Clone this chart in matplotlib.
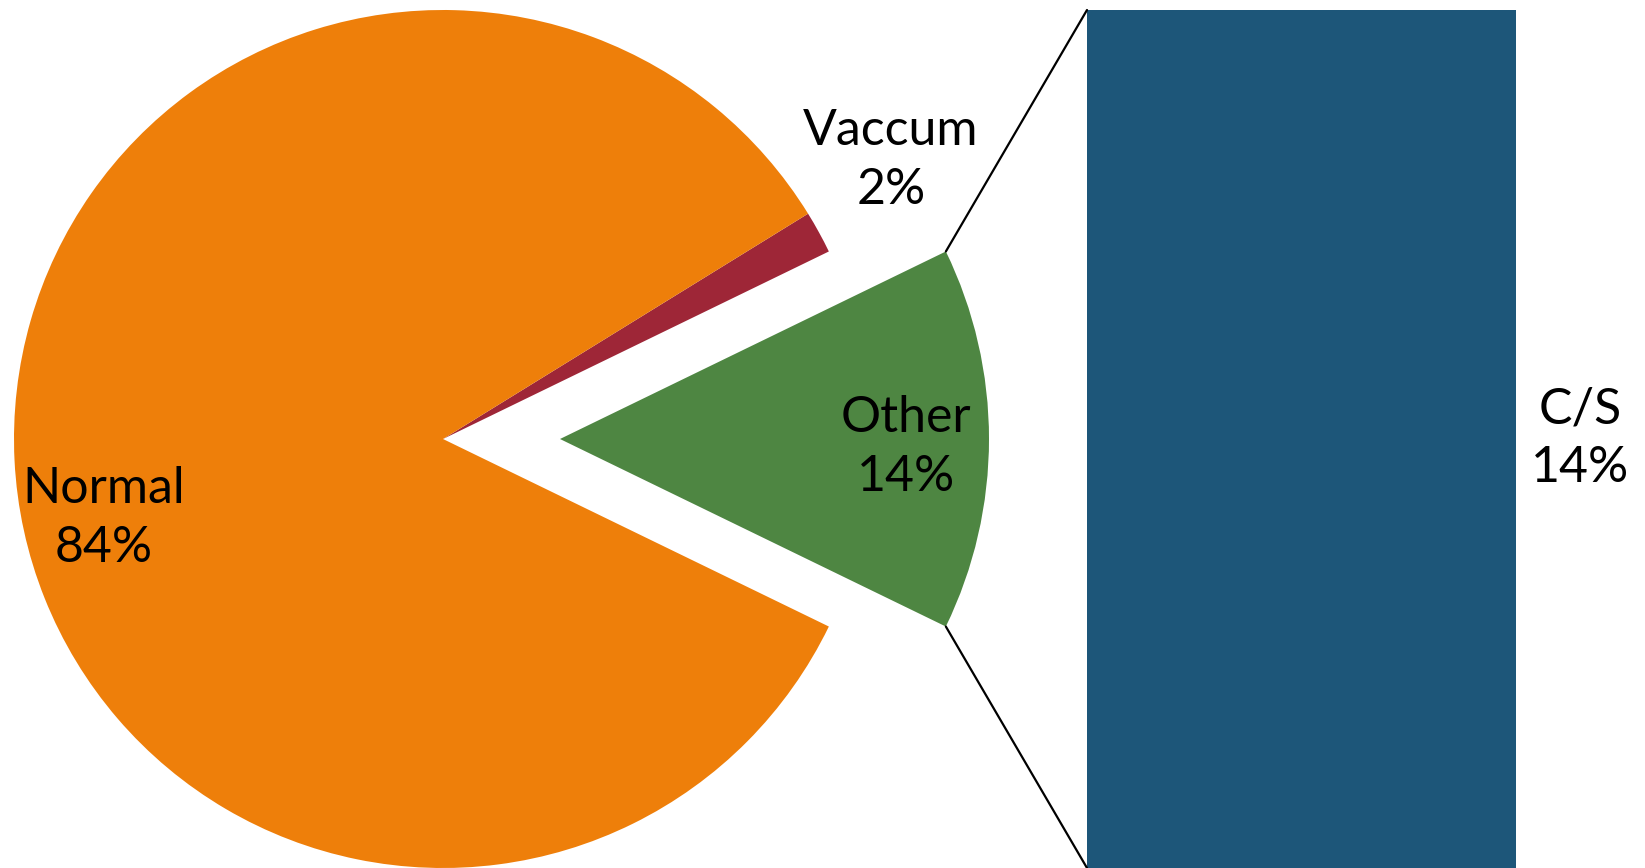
import matplotlib
matplotlib.use('Agg')
import matplotlib.pyplot as plt
from matplotlib.patches import ConnectionPatch
import numpy as np

# pie data (percent) - labels show rounded values
pie_labels = ['Other', 'Vaccum', 'Normal']
pie_values = [14.4, 1.6, 84.0]
pie_colors = ['#4E8642', '#9E2637', '#EE7F0A']

# bar of pie data (breakdown of "Other")
bar_labels = ['C/S']
bar_values = [14.4]
bar_colors = ['#1D5679']

plt.rcParams['font.family'] = ['Lato', 'DejaVu Sans']

W, H = 1645, 868
fig = plt.figure(figsize=(W / 100, H / 100), dpi=100)

# pie axes covers the whole figure, units = pie radius
R = 429.0
cx, cy = 443.0, 439.0
ax1 = fig.add_axes([0, 0, 1, 1])

start = -pie_values[0] / 2 * 3.6
explode = [117 / R, 0, 0]
wedges, _ = ax1.pie(pie_values, colors=pie_colors, startangle=start,
                    explode=explode, radius=1.0, counterclock=True,
                    wedgeprops=dict(linewidth=0))
# pie() resets the limits, so set them afterwards
ax1.set_xlim(-cx / R, (W - cx) / R)
ax1.set_ylim(-(H - cy) / R, cy / R)
ax1.set_aspect('equal')
ax1.axis('off')

fs = 36
ls = 1.35
# label positions (in radius units from pie centre)
label_pos = {'Normal': (-0.79, -0.185), 'Vaccum': (1.044, 0.650), 'Other': (1.079, -0.02)}
total = sum(pie_values)
for name, val in zip(pie_labels, pie_values):
    x, y = label_pos[name]
    ax1.text(x, y, f'{name}\n{val / total * 100:.0f}%', ha='center', va='center',
             fontsize=fs, linespacing=ls, color='black')

# bar axes
bx0, bx1 = 1087, 1516
by_top = 10
ax2 = fig.add_axes([bx0 / W, 0, (bx1 - bx0) / W, (H - by_top) / H])
bottom = 0
for name, val, col in zip(bar_labels, bar_values, bar_colors):
    ax2.bar(0, val, width=1.0, bottom=bottom, color=col, linewidth=0)
    ax2.text(0.5 + 64 / (bx1 - bx0), bottom + val / 2,
             f'{name}\n{val / total:.0%}',
             ha='center', va='center', fontsize=fs, linespacing=ls)
    bottom += val
ax2.set_xlim(-0.5, 0.5)
ax2.set_ylim(0, sum(bar_values))
ax2.axis('off')

# connector lines from the exploded wedge to the bar
w = wedges[0]
cxw, cyw = w.center
for theta, yb in [(w.theta2, sum(bar_values)), (w.theta1, 0)]:
    xa = cxw + w.r * np.cos(np.radians(theta))
    ya = cyw + w.r * np.sin(np.radians(theta))
    con = ConnectionPatch(xyA=(-0.5, yb), coordsA=ax2.transData,
                          xyB=(xa, ya), coordsB=ax1.transData,
                          color='black', linewidth=1.6)
    fig.add_artist(con)

fig.savefig('out.png', dpi=100)
